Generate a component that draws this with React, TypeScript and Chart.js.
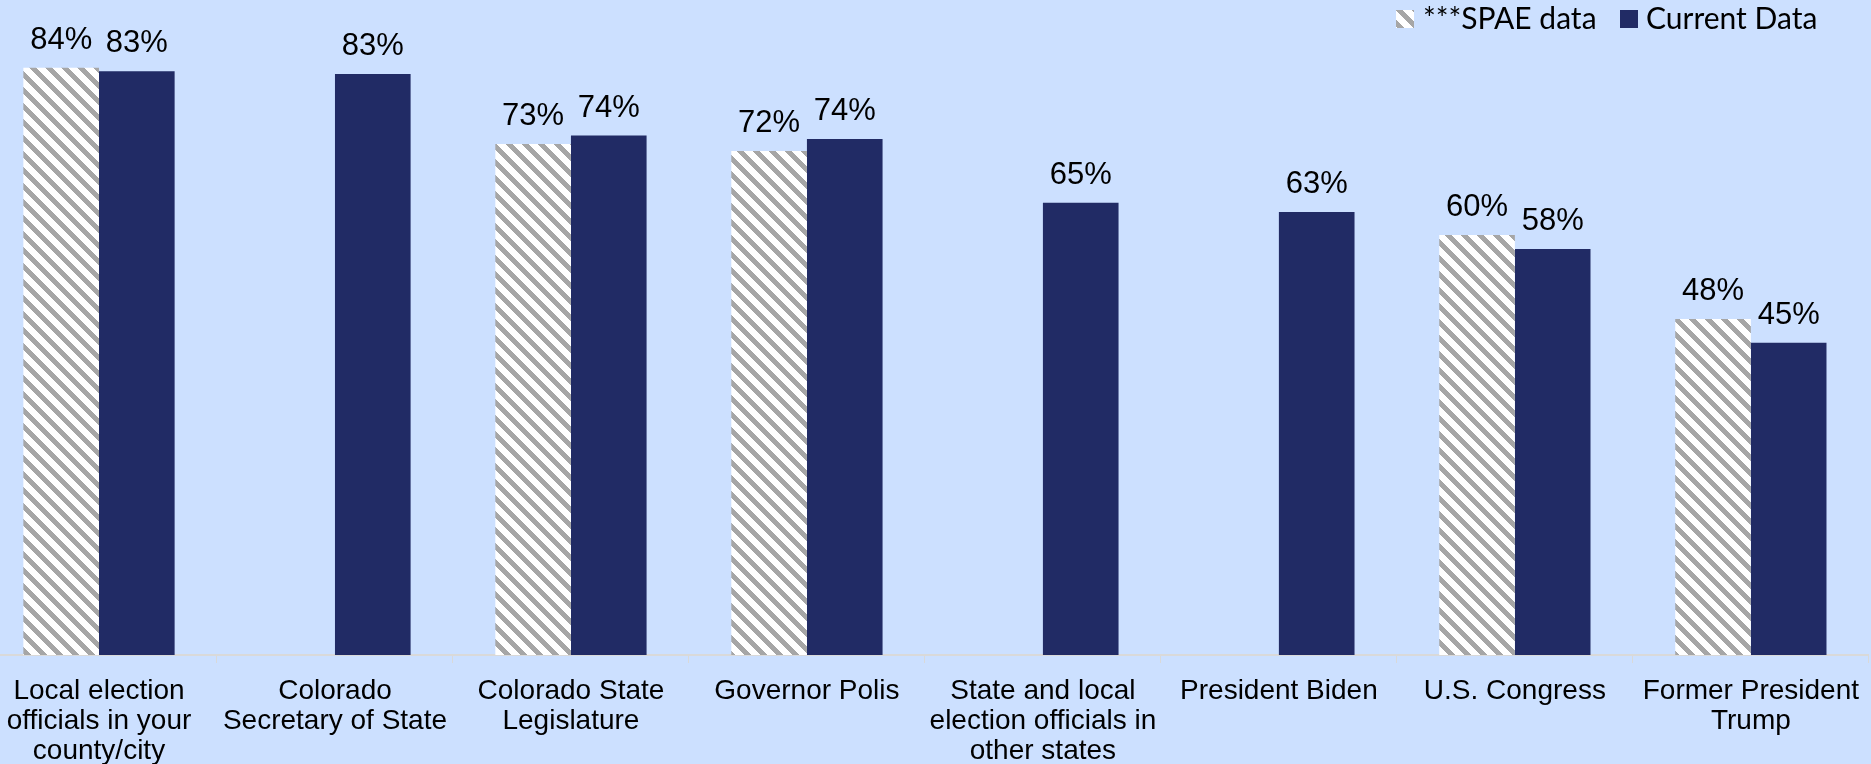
import React, { useEffect, useRef } from "react";
import { Chart, registerables } from "chart.js";

Chart.register(...registerables);

// ---- data ----
const categories: string[][] = [
  ["Local election", "officials in your", "county/city"],
  ["Colorado", "Secretary of State"],
  ["Colorado State", "Legislature"],
  ["Governor Polis"],
  ["State and local", "election officials in", "other states"],
  ["President Biden"],
  ["U.S. Congress"],
  ["Former President", "Trump"],
];
const spaeValues: (number | null)[] = [83.9, null, 73.0, 72.0, null, null, 60.0, 48.0];
const currentValues: number[] = [83.4, 83.0, 74.2, 73.7, 64.6, 63.3, 58.0, 44.6];
const seriesNames = ["***SPAE data", "Current Data"];
const yMin = 0;
const yMax = 100;

// ---- styles ----
const BG = "#CCE0FF";
const NAVY = "#212B65";
const HATCH_GRAY = 166;
const OFFSET_X = 19; // canvas shifted left (chart is cropped in the reference)
const OFFSET_Y = 45; // canvas shifted up
const CANVAS_W = 1891;
const CANVAS_H = 824;

function makeHatch(): CanvasPattern | string {
  const s = 16;
  const w = 7;
  const c = document.createElement("canvas");
  c.width = s;
  c.height = s;
  const g = c.getContext("2d");
  if (!g) return "#ffffff";
  const img = g.createImageData(s, s);
  for (let y = 0; y < s; y++) {
    for (let x = 0; x < s; x++) {
      const k = (((x - y) % s) + s) % s;
      const v = k < w ? HATCH_GRAY : 255;
      const i = (y * s + x) * 4;
      img.data[i] = v;
      img.data[i + 1] = v;
      img.data[i + 2] = v;
      img.data[i + 3] = 255;
    }
  }
  g.putImageData(img, 0, 0);
  return g.createPattern(c, "repeat") || "#ffffff";
}

const valueLabels = {
  id: "valueLabels",
  afterDatasetsDraw(chart: any) {
    const ctx = chart.ctx;
    ctx.save();
    ctx.font = "31px 'Liberation Sans', Arial, sans-serif";
    ctx.fillStyle = "#000";
    ctx.textAlign = "center";
    ctx.textBaseline = "alphabetic";
    chart.data.datasets.forEach((ds: any, di: number) => {
      const meta = chart.getDatasetMeta(di);
      meta.data.forEach((el: any, i: number) => {
        const v = ds.data[i];
        if (v == null) return;
        ctx.fillText(Math.round(v) + "%", el.x, el.y - 19);
      });
    });
    ctx.restore();
  },
};

// legend item positions in page pixels: [swatch x, text x]
const legendSlots = [
  [1396, 1423],
  [1620, 1646],
];

const customLegend = {
  id: "customLegend",
  afterDraw(chart: any) {
    const ctx = chart.ctx;
    ctx.save();
    ctx.font = "30px Lato, 'Open Sans', sans-serif";
    ctx.textBaseline = "alphabetic";
    ctx.textAlign = "left";
    const boxTop = 10 + OFFSET_Y;
    const baseline = 29 + OFFSET_Y;
    const box = 18;
    chart.data.datasets.forEach((ds: any, di: number) => {
      const [sx, tx] = legendSlots[di];
      ctx.fillStyle = ds.backgroundColor;
      ctx.fillRect(sx + OFFSET_X, boxTop, box, box);
      ctx.fillStyle = "#000";
      ctx.fillText(ds.label, tx + OFFSET_X, baseline);
    });
    ctx.restore();
  },
};

export default function App() {
  const ref = useRef<HTMLCanvasElement | null>(null);

  useEffect(() => {
    const canvas = ref.current;
    if (!canvas) return;
    const hatch = makeHatch();
    const chart = new Chart(canvas, {
      type: "bar",
      data: {
        labels: categories,
        datasets: [
          {
            label: seriesNames[0],
            data: spaeValues,
            backgroundColor: hatch as any,
            borderWidth: 0,
            categoryPercentage: 0.641,
            barPercentage: 1,
          },
          {
            label: seriesNames[1],
            data: currentValues,
            backgroundColor: NAVY,
            borderWidth: 0,
            categoryPercentage: 0.641,
            barPercentage: 1,
          },
        ],
      },
      options: {
        responsive: false,
        animation: false,
        layout: { padding: 0 },
        plugins: {
          legend: { display: false },
          tooltip: { enabled: false },
          title: { display: false },
        },
        scales: {
          x: {
            offset: true,
            grid: {
              display: true,
              offset: true,
              drawOnChartArea: false,
              drawTicks: true,
              tickLength: 8,
              color: "#D9D9D9",
              lineWidth: 1,
            },
            border: { display: true, color: "#D9D9D9", width: 2 },
            ticks: {
              color: "#000",
              padding: 13,
              maxRotation: 0,
              autoSkip: false,
              font: { family: "'Liberation Sans', Arial, sans-serif", size: 28, lineHeight: "30px" as any },
            },
          },
          y: {
            display: false,
            min: yMin,
            max: yMax,
          },
        },
      },
      plugins: [valueLabels, customLegend],
    });
    return () => chart.destroy();
  }, []);

  return (
    <div style={{ position: "fixed", inset: 0, background: BG, overflow: "hidden" }}>
      <canvas
        ref={ref}
        width={CANVAS_W}
        height={CANVAS_H}
        style={{
          position: "absolute",
          left: -OFFSET_X,
          top: -OFFSET_Y,
          width: CANVAS_W,
          height: CANVAS_H,
        }}
      />
    </div>
  );
}
